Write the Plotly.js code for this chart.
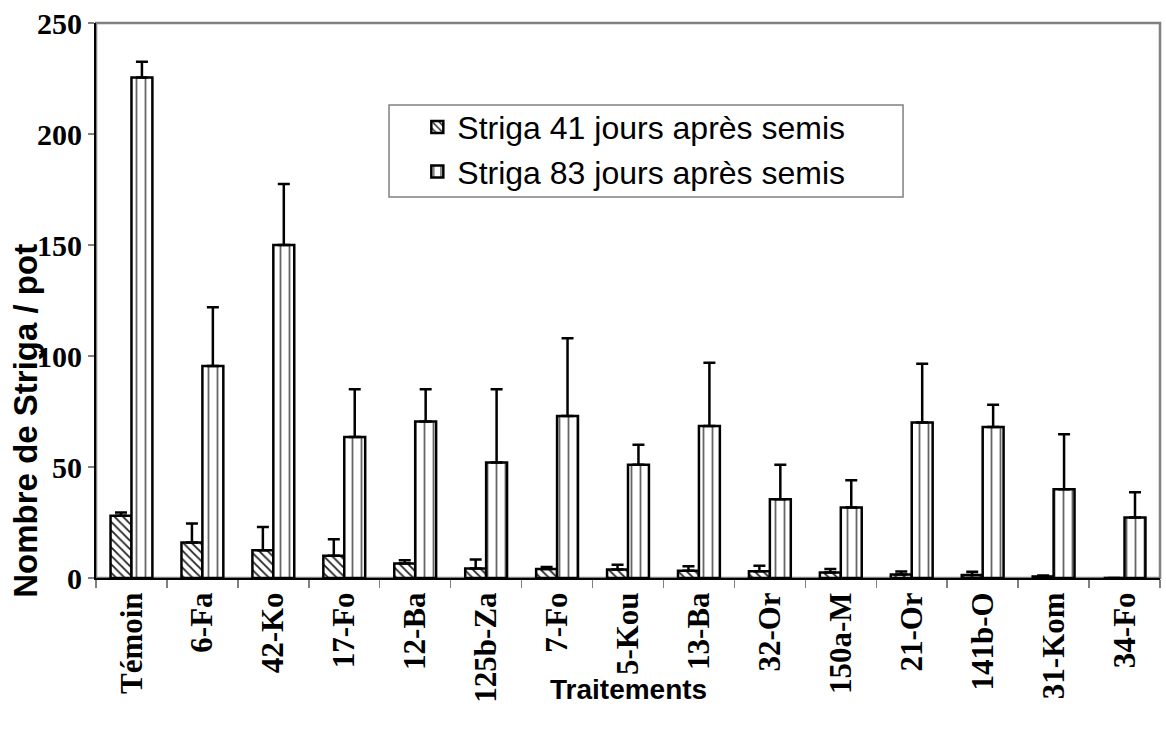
<!DOCTYPE html>
<html>
<head>
<meta charset="utf-8">
<script src="https://cdn.plot.ly/plotly-3.0.1.min.js"></script>
<style>html,body{margin:0;padding:0;background:#fff;}#chart{width:1166px;height:730px;}</style>
</head>
<body>
<div id="chart"></div>
<script>
// ---- data ----
const categories = ['Témoin','6-Fa','42-Ko','17-Fo','12-Ba','125b-Za','7-Fo','5-Kou','13-Ba','32-Or','150a-M','21-Or','141b-O','31-Kom','34-Fo'];
const striga41 = [28, 16, 12.5, 10, 6.5, 4.3, 4, 3.8, 3.3, 3, 2.5, 1.6, 1.3, 0.7, 0];
const striga41Err = [1.5, 8.5, 10.5, 7.5, 1.5, 4, 1, 2.2, 2, 2.5, 1.6, 1.3, 1.5, 0.4, null];
const striga83 = [225.5, 95.5, 150, 63.5, 70.5, 52, 73, 51, 68.5, 35.5, 31.8, 70, 68, 40, 27.3];
const striga83Err = [7, 26.5, 27.5, 21.5, 14.5, 33, 35, 9, 28.5, 15.5, 12.2, 26.5, 10, 24.7, 11.3];
const seriesNames = ['Striga 41 jours après semis', 'Striga 83 jours après semis'];
const yTicks = [0, 50, 100, 150, 200, 250];

const zeros = categories.map(() => 0);
const serif = 'Liberation Serif, Times New Roman, serif';
const sans = 'Liberation Sans, Arial, sans-serif';

const trace41 = {
  type: 'bar', name: seriesNames[0], x: categories, y: striga41,
  marker: {color: 'white', line: {color: 'black', width: 2.5},
           pattern: {shape: '\\', fgcolor: '#222', bgcolor: 'white', size: 6, solidity: 0.3}},
  error_y: {type: 'data', symmetric: false, array: striga41Err, arrayminus: zeros,
            color: 'black', thickness: 2.5, width: 6}
};
const trace83 = {
  type: 'bar', name: seriesNames[1], x: categories, y: striga83,
  marker: {color: 'white', line: {color: 'black', width: 2.5},
           pattern: {shape: '|', fgcolor: '#666', bgcolor: 'white', size: 9, solidity: 0.2}},
  error_y: {type: 'data', symmetric: false, array: striga83Err, arrayminus: zeros,
            color: 'black', thickness: 2.5, width: 6}
};

const layout = {
  width: 1166, height: 730, autosize: false,
  margin: {l: 96, r: 6, t: 23, b: 152, pad: 0},
  paper_bgcolor: 'white', plot_bgcolor: 'white',
  barmode: 'group', bargap: 0.41, bargroupgap: 0,
  showlegend: true,
  legend: {x: 0.302, y: 0.862, xanchor: 'left', yanchor: 'top', bgcolor: 'rgba(0,0,0,0)',
           borderwidth: 0, font: {family: sans, size: 32, color: 'black'}},
  xaxis: {type: 'category', tickangle: -90, ticks: 'outside', tickson: 'boundaries',
          ticklen: 8, tickwidth: 1.5, tickcolor: '#808080',
          showline: true, linecolor: 'black', linewidth: 2, showgrid: false, zeroline: false,
          tickfont: {family: serif, size: 31, color: 'black', weight: 'bold'}, fixedrange: true},
  yaxis: {range: [0, 250], tickvals: yTicks, ticktext: yTicks.map(String), ticks: 'outside',
          ticklen: 6, tickwidth: 1.5, tickcolor: '#808080',
          showline: true, linecolor: 'black', linewidth: 2, showgrid: false, zeroline: false,
          tickfont: {family: serif, size: 30, color: 'black', weight: 'bold'}, fixedrange: true},
  shapes: [
    {type: 'rect', xref: 'paper', yref: 'paper', x0: 0, x1: 1, y0: 0, y1: 1,
     line: {color: '#808080', width: 2.5}, layer: 'below'},
    {type: 'rect', xref: 'paper', yref: 'paper', x0: 0.2754, x1: 0.7585, y0: 0.6865, y1: 0.8523,
     line: {color: '#808080', width: 1.5}, fillcolor: 'white', layer: 'below'}
  ],
  annotations: [
    {text: 'Nombre de Striga / pot', xref: 'paper', yref: 'paper', x: -0.066, y: 0.283,
     xanchor: 'center', yanchor: 'middle', textangle: -90, showarrow: false,
     font: {family: sans, size: 33, color: 'black', weight: 'bold'}},
    {text: 'Traitements', xref: 'paper', yref: 'paper', x: 0.5, y: -0.2018,
     xanchor: 'center', yanchor: 'middle', showarrow: false,
     font: {family: sans, size: 28, color: 'black', weight: 'bold'}}
  ]
};

Plotly.newPlot('chart', [trace41, trace83], layout, {staticPlot: true, displayModeBar: false});
</script>
</body>
</html>
